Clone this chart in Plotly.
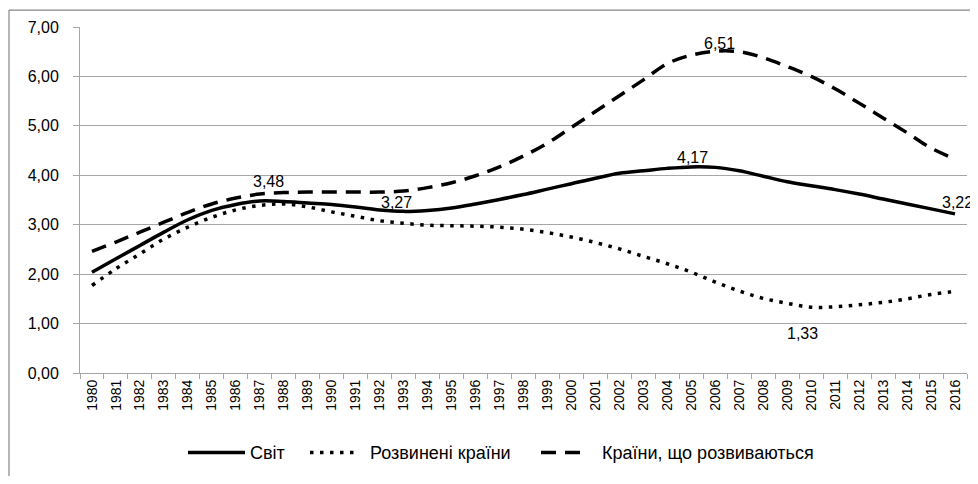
import plotly.graph_objects as go

years = [str(y) for y in range(1980, 2017)]

world = [2.04, 2.31, 2.58, 2.85, 3.10, 3.29, 3.41, 3.48, 3.47, 3.44,
         3.41, 3.36, 3.30, 3.27, 3.29, 3.34, 3.42, 3.51, 3.61, 3.72,
         3.83, 3.94, 4.04, 4.09, 4.14, 4.17, 4.16, 4.09, 3.98, 3.87,
         3.79, 3.71, 3.62, 3.52, 3.42, 3.32, 3.22]

developed = [1.77, 2.11, 2.41, 2.71, 2.95, 3.15, 3.30, 3.39, 3.42, 3.36,
             3.26, 3.17, 3.08, 3.03, 2.99, 2.98, 2.97, 2.95, 2.91, 2.84,
             2.75, 2.64, 2.51, 2.36, 2.21, 2.04, 1.84, 1.66, 1.51, 1.41,
             1.33, 1.34, 1.38, 1.43, 1.50, 1.59, 1.65]

developing = [2.46, 2.65, 2.85, 3.05, 3.25, 3.42, 3.54, 3.62, 3.65, 3.66,
              3.66, 3.66, 3.66, 3.68, 3.75, 3.85, 3.99, 4.17, 4.39, 4.65,
              4.97, 5.29, 5.61, 5.93, 6.26, 6.43, 6.51, 6.50, 6.38, 6.20,
              6.00, 5.75, 5.46, 5.16, 4.86, 4.55, 4.33]

series_names = ["Світ", "Розвинені країни", "Країни, що розвиваються"]

# labelled points: (series index, year)
label_points = [(0, "1987"), (0, "1993"), (0, "2005"), (0, "2016"),
                (2, "2006"), (1, "2010")]
label_shifts = [(9, 19), (-7, 9), (1, 9), (2, 11), (4, 8), (-9, -26)]

FONT = "Liberation Sans, Arial, sans-serif"
GRID = "#a6a6a6"

all_series = [world, developed, developing]
styles = [dict(color="black", width=3.5, dash="solid"),
          dict(color="black", width=3.5, dash="3.5px,6.5px"),
          dict(color="black", width=3.5, dash="15px,9px")]

# the page has an 8px body margin; the figure fills the rest of the window
OFF = 8
W, H = 970, 468
L, R, T, B = 72, 11, 17, 103
pw, ph = W - L - R, H - T - B


def px(xpage):
    return (xpage - OFF - L) / pw


def py(ypage):
    return (H - B - (ypage - OFF)) / ph


fig = go.Figure()
for name, vals, st in zip(series_names, all_series, styles):
    fig.add_trace(go.Scatter(x=years, y=vals, mode="lines", name=name,
                             showlegend=False,
                             line=dict(shape="spline", smoothing=1, **st)))

for (si, yr), (dx, dy) in zip(label_points, label_shifts):
    idx = years.index(yr)
    v = all_series[si][idx]
    fig.add_annotation(x=idx, y=v, xref="x", yref="y",
                       text=f"{v:.2f}".replace(".", ","),
                       showarrow=False, xshift=dx, yshift=dy,
                       font=dict(family=FONT, size=16, color="black"))

# chart-area border: only its top and left edges fall inside the window
border = dict(color="#868686", width=1.2)
fig.add_shape(type="line", xref="paper", yref="paper",
              x0=px(9), x1=px(1000), y0=py(8), y1=py(8),
              line=border, layer="above")
fig.add_shape(type="line", xref="paper", yref="paper",
              x0=px(9), x1=px(9), y0=py(8), y1=py(520),
              line=border, layer="above")

# legend (drawn below the plot, like the original)
legend_y = 453
legend_items = [(188, 245, 248), (310, 356, 368), (541, 584, 600)]
for name, st, (x0, x1, xt) in zip(series_names, styles, legend_items):
    fig.add_shape(type="line", xref="paper", yref="paper",
                  x0=px(x0), x1=px(x1), y0=py(legend_y), y1=py(legend_y),
                  line=st)
    fig.add_annotation(xref="paper", yref="paper", x=px(xt), y=py(legend_y),
                       xanchor="left", yanchor="middle", text=name,
                       showarrow=False,
                       font=dict(family=FONT, size=18, color="black"))

fig.update_layout(
    width=W, height=H,
    margin=dict(l=L, r=R, t=T, b=B),
    paper_bgcolor="white", plot_bgcolor="white",
    separators=", ",
    font=dict(family=FONT, color="black"),
    showlegend=False,
    xaxis=dict(type="category", range=[-0.5, len(years) - 0.5],
               tickangle=-90, showgrid=False,
               showline=True, linecolor=GRID, linewidth=1,
               ticks="outside", ticklen=5, tickcolor=GRID,
               tickson="boundaries",
               tickfont=dict(family=FONT, size=14, color="black")),
    yaxis=dict(range=[0, 7], dtick=1, tickformat=".2f",
               showgrid=True, gridcolor=GRID, gridwidth=1,
               showline=True, linecolor=GRID, linewidth=1,
               ticks="outside", ticklen=6, tickcolor=GRID,
               ticklabelstandoff=11, zeroline=False,
               tickfont=dict(family=FONT, size=16, color="black")),
)

fig.write_html("out.html")
